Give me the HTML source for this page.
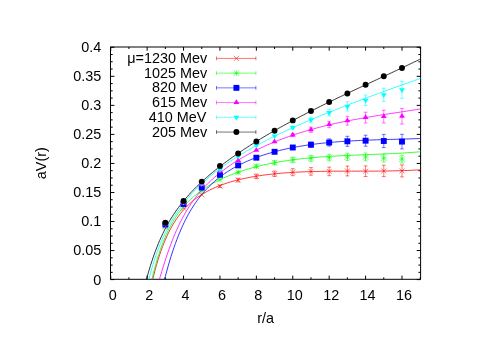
<!DOCTYPE html>
<html><head><meta charset="utf-8"><title>plot</title>
<style>
html,body{margin:0;padding:0;background:#fff;}
body{width:497px;height:351px;overflow:hidden;}
svg{display:block;will-change:transform;}
text{font-family:"Liberation Sans",sans-serif;font-size:14.4px;fill:#000;}
</style></head><body>
<svg width="497" height="351" viewBox="0 0 497 351">
<rect width="497" height="351" fill="#fff"/>
<defs><clipPath id="c"><rect x="110.5" y="47" width="310.1" height="232.3"/></clipPath></defs>
<path d="M110.5 279.6h3.9M420.6 279.6h-3.9M110.5 272.34h2.2M420.6 272.34h-2.2M110.5 265.08h2.2M420.6 265.08h-2.2M110.5 257.82h2.2M420.6 257.82h-2.2M110.5 250.56h3.9M420.6 250.56h-3.9M110.5 243.3h2.2M420.6 243.3h-2.2M110.5 236.04h2.2M420.6 236.04h-2.2M110.5 228.78h2.2M420.6 228.78h-2.2M110.5 221.52h3.9M420.6 221.52h-3.9M110.5 214.26h2.2M420.6 214.26h-2.2M110.5 207h2.2M420.6 207h-2.2M110.5 199.74h2.2M420.6 199.74h-2.2M110.5 192.48h3.9M420.6 192.48h-3.9M110.5 185.22h2.2M420.6 185.22h-2.2M110.5 177.96h2.2M420.6 177.96h-2.2M110.5 170.7h2.2M420.6 170.7h-2.2M110.5 163.44h3.9M420.6 163.44h-3.9M110.5 156.18h2.2M420.6 156.18h-2.2M110.5 148.92h2.2M420.6 148.92h-2.2M110.5 141.66h2.2M420.6 141.66h-2.2M110.5 134.4h3.9M420.6 134.4h-3.9M110.5 127.14h2.2M420.6 127.14h-2.2M110.5 119.88h2.2M420.6 119.88h-2.2M110.5 112.62h2.2M420.6 112.62h-2.2M110.5 105.36h3.9M420.6 105.36h-3.9M110.5 98.1h2.2M420.6 98.1h-2.2M110.5 90.84h2.2M420.6 90.84h-2.2M110.5 83.58h2.2M420.6 83.58h-2.2M110.5 76.32h3.9M420.6 76.32h-3.9M110.5 69.06h2.2M420.6 69.06h-2.2M110.5 61.8h2.2M420.6 61.8h-2.2M110.5 54.54h2.2M420.6 54.54h-2.2M110.5 47.28h3.9M420.6 47.28h-3.9M110.73 279.3v-3.7M110.73 47v3.7M128.93 279.3v-2M128.93 47v2M147.14 279.3v-3.7M147.14 47v3.7M165.34 279.3v-2M165.34 47v2M183.55 279.3v-3.7M183.55 47v3.7M201.75 279.3v-2M201.75 47v2M219.95 279.3v-3.7M219.95 47v3.7M238.16 279.3v-2M238.16 47v2M256.36 279.3v-3.7M256.36 47v3.7M274.57 279.3v-2M274.57 47v2M292.77 279.3v-3.7M292.77 47v3.7M310.97 279.3v-2M310.97 47v2M329.18 279.3v-3.7M329.18 47v3.7M347.38 279.3v-2M347.38 47v2M365.59 279.3v-3.7M365.59 47v3.7M383.79 279.3v-2M383.79 47v2M401.99 279.3v-3.7M401.99 47v3.7M420.2 279.3v-2M420.2 47v2" stroke="#000" stroke-width="1" fill="none"/>
<path d="M110.5 47V279.3H420.6V47" stroke="#000" stroke-width="1" fill="none" stroke-linejoin="miter"/>
<path d="M110 47H421.1" stroke="#000" stroke-width="1" fill="none"/>
<g clip-path="url(#c)" fill="none">
<polyline points="150.57,288.5 152.08,281.95 153.59,275.8 155.1,270.03 156.61,264.64 158.12,259.6 159.63,254.89 161.15,250.49 162.66,246.38 164.17,242.53 165.68,238.94 167.19,235.57 168.7,232.42 170.21,229.47 171.73,226.69 173.24,224.09 174.75,221.63 176.26,219.33 177.77,217.15 179.28,215.1 180.79,213.16 182.31,211.33 183.82,209.59 185.33,207.95 186.84,206.39 188.35,204.91 189.86,203.5 191.37,202.17 192.89,200.89 194.4,199.68 195.91,198.53 197.42,197.42 198.93,196.37 200.44,195.36 201.95,194.4 203.46,193.48 204.98,192.59 206.49,191.75 208,190.94 209.51,190.16 211.02,189.41 212.53,188.69 214.04,188 215.56,187.34 217.07,186.7 218.58,186.09 220.09,185.5 221.6,184.93 223.11,184.38 224.62,183.85 226.14,183.34 227.65,182.85 229.16,182.38 230.67,181.92 232.18,181.48 233.69,181.06 235.2,180.65 236.72,180.25 238.23,179.87 239.74,179.5 241.25,179.14 242.76,178.8 244.27,178.47 245.78,178.15 247.3,177.84 248.81,177.54 250.32,177.26 251.83,176.98 253.34,176.71 254.85,176.45 256.36,176.2 257.88,175.96 259.39,175.73 260.9,175.51 262.41,175.29 263.92,175.09 265.43,174.89 266.94,174.69 268.46,174.51 269.97,174.33 271.48,174.16 272.99,174 274.5,173.84 276.01,173.69 277.52,173.54 279.04,173.4 280.55,173.27 282.06,173.14 283.57,173.02 285.08,172.91 286.59,172.79 288.1,172.69 289.62,172.59 291.13,172.49 292.64,172.4 294.15,172.31 295.66,172.23 297.17,172.15 298.68,172.07 300.2,172 301.71,171.93 303.22,171.87 304.73,171.81 306.24,171.75 307.75,171.7 309.26,171.65 310.78,171.6 312.29,171.56 313.8,171.52 315.31,171.48 316.82,171.45 318.33,171.42 319.84,171.39 321.36,171.36 322.87,171.33 324.38,171.31 325.89,171.29 327.4,171.27 328.91,171.25 330.42,171.24 331.93,171.22 333.45,171.21 334.96,171.2 336.47,171.19 337.98,171.18 339.49,171.18 341,171.17 342.51,171.16 344.03,171.16 345.54,171.16 347.05,171.15 348.56,171.15 350.07,171.15 351.58,171.15 353.09,171.15 354.61,171.15 356.12,171.15 357.63,171.15 359.14,171.14 360.65,171.14 362.16,171.14 363.67,171.14 365.19,171.14 366.7,171.13 368.21,171.13 369.72,171.13 371.23,171.12 372.74,171.11 374.25,171.11 375.77,171.1 377.28,171.09 378.79,171.07 380.3,171.06 381.81,171.05 383.32,171.03 384.83,171.01 386.35,170.99 387.86,170.97 389.37,170.95 390.88,170.92 392.39,170.89 393.9,170.86 395.41,170.83 396.93,170.79 398.44,170.75 399.95,170.71 401.46,170.67 402.97,170.62 404.48,170.57 405.99,170.52 407.51,170.46 409.02,170.4 410.53,170.34 412.04,170.27 413.55,170.2 415.06,170.13 416.57,170.05 418.09,169.97 419.6,169.88 421.11,169.79" stroke="#ff0000" stroke-width="0.8"/>
<polyline points="149.72,288.92 151.23,282.11 152.75,275.74 154.26,269.77 155.78,264.21 157.3,259.02 158.81,254.18 160.33,249.66 161.84,245.44 163.36,241.5 164.88,237.81 166.39,234.36 167.91,231.12 169.43,228.08 170.94,225.22 172.46,222.52 173.97,219.98 175.49,217.58 177.01,215.31 178.52,213.17 180.04,211.13 181.55,209.19 183.07,207.35 184.59,205.6 186.1,203.93 187.62,202.34 189.14,200.81 190.65,199.35 192.17,197.96 193.68,196.62 195.2,195.33 196.72,194.09 198.23,192.9 199.75,191.76 201.26,190.65 202.78,189.59 204.3,188.56 205.81,187.57 207.33,186.61 208.85,185.68 210.36,184.78 211.88,183.91 213.39,183.06 214.91,182.24 216.43,181.45 217.94,180.68 219.46,179.93 220.98,179.2 222.49,178.49 224.01,177.81 225.52,177.14 227.04,176.49 228.56,175.85 230.07,175.24 231.59,174.64 233.1,174.05 234.62,173.48 236.14,172.93 237.65,172.39 239.17,171.86 240.69,171.35 242.2,170.85 243.72,170.36 245.23,169.88 246.75,169.42 248.27,168.97 249.78,168.53 251.3,168.1 252.81,167.68 254.33,167.27 255.85,166.88 257.36,166.49 258.88,166.11 260.4,165.74 261.91,165.38 263.43,165.03 264.94,164.69 266.46,164.36 267.98,164.04 269.49,163.72 271.01,163.42 272.52,163.12 274.04,162.83 275.56,162.54 277.07,162.27 278.59,162 280.11,161.74 281.62,161.49 283.14,161.24 284.65,161 286.17,160.77 287.69,160.54 289.2,160.32 290.72,160.11 292.23,159.9 293.75,159.7 295.27,159.5 296.78,159.31 298.3,159.13 299.82,158.95 301.33,158.77 302.85,158.61 304.36,158.44 305.88,158.28 307.4,158.13 308.91,157.98 310.43,157.84 311.94,157.7 313.46,157.56 314.98,157.43 316.49,157.31 318.01,157.18 319.53,157.06 321.04,156.95 322.56,156.84 324.07,156.73 325.59,156.63 327.11,156.52 328.62,156.43 330.14,156.33 331.65,156.24 333.17,156.15 334.69,156.06 336.2,155.98 337.72,155.9 339.24,155.82 340.75,155.74 342.27,155.67 343.78,155.59 345.3,155.52 346.82,155.45 348.33,155.39 349.85,155.32 351.36,155.26 352.88,155.19 354.4,155.13 355.91,155.07 357.43,155.01 358.95,154.95 360.46,154.89 361.98,154.83 363.49,154.77 365.01,154.72 366.53,154.66 368.04,154.6 369.56,154.54 371.07,154.49 372.59,154.43 374.11,154.37 375.62,154.31 377.14,154.25 378.66,154.19 380.17,154.13 381.69,154.07 383.2,154 384.72,153.94 386.24,153.87 387.75,153.81 389.27,153.74 390.78,153.67 392.3,153.59 393.82,153.52 395.33,153.44 396.85,153.36 398.37,153.28 399.88,153.2 401.4,153.11 402.91,153.02 404.43,152.93 405.95,152.83 407.46,152.73 408.98,152.63 410.5,152.53 412.01,152.42 413.53,152.31 415.04,152.19 416.56,152.07 418.08,151.95 419.59,151.82 421.11,151.69" stroke="#00ff00" stroke-width="0.8"/>
<polyline points="162.42,287.85 163.86,282.07 165.31,276.48 166.75,271.12 168.2,265.97 169.64,261.05 171.09,256.34 172.53,251.84 173.98,247.55 175.42,243.47 176.87,239.57 178.31,235.85 179.76,232.31 181.2,228.94 182.65,225.72 184.09,222.66 185.54,219.73 186.98,216.94 188.43,214.27 189.87,211.73 191.32,209.29 192.76,206.96 194.21,204.74 195.66,202.6 197.1,200.56 198.55,198.6 199.99,196.72 201.44,194.92 202.88,193.19 204.33,191.52 205.77,189.92 207.22,188.38 208.66,186.9 210.11,185.47 211.55,184.1 213,182.77 214.44,181.49 215.89,180.25 217.33,179.06 218.78,177.91 220.22,176.79 221.67,175.71 223.11,174.67 224.56,173.65 226,172.67 227.45,171.72 228.9,170.8 230.34,169.91 231.79,169.04 233.23,168.2 234.68,167.39 236.12,166.59 237.57,165.82 239.01,165.07 240.46,164.34 241.9,163.64 243.35,162.95 244.79,162.28 246.24,161.63 247.68,160.99 249.13,160.37 250.57,159.77 252.02,159.18 253.46,158.61 254.91,158.06 256.35,157.52 257.8,156.99 259.24,156.47 260.69,155.97 262.14,155.48 263.58,155.01 265.03,154.54 266.47,154.09 267.92,153.65 269.36,153.22 270.81,152.8 272.25,152.39 273.7,151.99 275.14,151.6 276.59,151.22 278.03,150.85 279.48,150.49 280.92,150.14 282.37,149.8 283.81,149.47 285.26,149.14 286.7,148.82 288.15,148.51 289.59,148.21 291.04,147.92 292.48,147.64 293.93,147.36 295.37,147.09 296.82,146.82 298.27,146.57 299.71,146.32 301.16,146.08 302.6,145.84 304.05,145.61 305.49,145.39 306.94,145.17 308.38,144.96 309.83,144.75 311.27,144.55 312.72,144.36 314.16,144.17 315.61,143.99 317.05,143.81 318.5,143.64 319.94,143.47 321.39,143.31 322.83,143.15 324.28,143 325.72,142.85 327.17,142.71 328.61,142.57 330.06,142.44 331.51,142.31 332.95,142.18 334.4,142.06 335.84,141.94 337.29,141.83 338.73,141.72 340.18,141.61 341.62,141.51 343.07,141.41 344.51,141.31 345.96,141.22 347.4,141.13 348.85,141.04 350.29,140.96 351.74,140.88 353.18,140.8 354.63,140.72 356.07,140.65 357.52,140.58 358.96,140.51 360.41,140.44 361.85,140.38 363.3,140.32 364.74,140.26 366.19,140.2 367.64,140.14 369.08,140.09 370.53,140.04 371.97,139.99 373.42,139.94 374.86,139.89 376.31,139.84 377.75,139.8 379.2,139.75 380.64,139.71 382.09,139.66 383.53,139.62 384.98,139.58 386.42,139.54 387.87,139.5 389.31,139.46 390.76,139.42 392.2,139.38 393.65,139.34 395.09,139.3 396.54,139.26 397.98,139.22 399.43,139.18 400.88,139.14 402.32,139.09 403.77,139.05 405.21,139.01 406.66,138.97 408.1,138.92 409.55,138.88 410.99,138.83 412.44,138.78 413.88,138.73 415.33,138.68 416.77,138.63 418.22,138.58 419.66,138.52 421.11,138.46" stroke="#0000ff" stroke-width="0.8"/>
<polyline points="157.32,286.63 158.79,281.62 160.26,276.62 161.74,271.67 163.21,266.82 164.68,262.11 166.16,257.56 167.63,253.16 169.11,248.94 170.58,244.89 172.05,241.01 173.53,237.3 175,233.75 176.47,230.35 177.95,227.11 179.42,224.01 180.89,221.04 182.37,218.21 183.84,215.49 185.32,212.89 186.79,210.4 188.26,208.01 189.74,205.72 191.21,203.52 192.68,201.4 194.16,199.36 195.63,197.4 197.11,195.51 198.58,193.69 200.05,191.93 201.53,190.23 203,188.58 204.47,186.99 205.95,185.45 207.42,183.95 208.9,182.5 210.37,181.09 211.84,179.72 213.32,178.39 214.79,177.09 216.26,175.83 217.74,174.6 219.21,173.4 220.68,172.23 222.16,171.08 223.63,169.97 225.11,168.87 226.58,167.81 228.05,166.76 229.53,165.74 231,164.74 232.47,163.76 233.95,162.79 235.42,161.85 236.9,160.93 238.37,160.02 239.84,159.13 241.32,158.25 242.79,157.39 244.26,156.55 245.74,155.72 247.21,154.9 248.69,154.1 250.16,153.31 251.63,152.54 253.11,151.78 254.58,151.03 256.05,150.29 257.53,149.57 259,148.85 260.47,148.15 261.95,147.46 263.42,146.78 264.9,146.1 266.37,145.44 267.84,144.79 269.32,144.15 270.79,143.52 272.26,142.9 273.74,142.29 275.21,141.69 276.69,141.1 278.16,140.51 279.63,139.94 281.11,139.37 282.58,138.81 284.05,138.26 285.53,137.72 287,137.18 288.48,136.66 289.95,136.14 291.42,135.63 292.9,135.13 294.37,134.63 295.84,134.14 297.32,133.66 298.79,133.19 300.26,132.72 301.74,132.27 303.21,131.81 304.69,131.37 306.16,130.93 307.63,130.5 309.11,130.07 310.58,129.65 312.05,129.24 313.53,128.83 315,128.43 316.48,128.03 317.95,127.64 319.42,127.26 320.9,126.88 322.37,126.51 323.84,126.14 325.32,125.78 326.79,125.43 328.26,125.07 329.74,124.73 331.21,124.39 332.69,124.05 334.16,123.72 335.63,123.39 337.11,123.07 338.58,122.75 340.05,122.44 341.53,122.13 343,121.83 344.48,121.53 345.95,121.23 347.42,120.94 348.9,120.65 350.37,120.36 351.84,120.08 353.32,119.8 354.79,119.53 356.27,119.26 357.74,118.99 359.21,118.72 360.69,118.46 362.16,118.2 363.63,117.94 365.11,117.69 366.58,117.43 368.05,117.18 369.53,116.94 371,116.69 372.48,116.45 373.95,116.21 375.42,115.97 376.9,115.73 378.37,115.49 379.84,115.26 381.32,115.03 382.79,114.79 384.27,114.56 385.74,114.33 387.21,114.1 388.69,113.87 390.16,113.65 391.63,113.42 393.11,113.19 394.58,112.97 396.06,112.74 397.53,112.51 399,112.29 400.48,112.06 401.95,111.83 403.42,111.61 404.9,111.38 406.37,111.15 407.84,110.92 409.32,110.69 410.79,110.46 412.27,110.23 413.74,109.99 415.21,109.76 416.69,109.52 418.16,109.28 419.63,109.04 421.11,108.8" stroke="#ff00ff" stroke-width="0.8"/>
<polyline points="146.72,288.57 148.25,281.89 149.78,275.76 151.31,270.1 152.85,264.85 154.38,259.96 155.91,255.4 157.45,251.12 158.98,247.09 160.51,243.29 162.04,239.7 163.58,236.3 165.11,233.07 166.64,229.99 168.18,227.05 169.71,224.24 171.24,221.56 172.78,218.98 174.31,216.51 175.84,214.13 177.37,211.83 178.91,209.63 180.44,207.49 181.97,205.43 183.51,203.43 185.04,201.5 186.57,199.63 188.1,197.81 189.64,196.04 191.17,194.32 192.7,192.65 194.24,191.02 195.77,189.44 197.3,187.89 198.83,186.38 200.37,184.91 201.9,183.47 203.43,182.06 204.97,180.68 206.5,179.33 208.03,178.01 209.57,176.71 211.1,175.44 212.63,174.2 214.16,172.97 215.7,171.77 217.23,170.59 218.76,169.43 220.3,168.29 221.83,167.17 223.36,166.07 224.89,164.98 226.43,163.91 227.96,162.86 229.49,161.82 231.03,160.8 232.56,159.79 234.09,158.79 235.62,157.81 237.16,156.84 238.69,155.89 240.22,154.94 241.76,154.01 243.29,153.09 244.82,152.18 246.36,151.28 247.89,150.39 249.42,149.51 250.95,148.64 252.49,147.78 254.02,146.92 255.55,146.08 257.09,145.24 258.62,144.42 260.15,143.6 261.68,142.79 263.22,141.98 264.75,141.19 266.28,140.4 267.82,139.61 269.35,138.84 270.88,138.07 272.41,137.3 273.95,136.55 275.48,135.79 277.01,135.05 278.55,134.31 280.08,133.57 281.61,132.85 283.15,132.12 284.68,131.4 286.21,130.69 287.74,129.98 289.28,129.28 290.81,128.58 292.34,127.88 293.88,127.19 295.41,126.5 296.94,125.82 298.47,125.14 300.01,124.47 301.54,123.8 303.07,123.13 304.61,122.47 306.14,121.81 307.67,121.15 309.21,120.5 310.74,119.85 312.27,119.2 313.8,118.56 315.34,117.92 316.87,117.28 318.4,116.65 319.94,116.02 321.47,115.39 323,114.76 324.53,114.14 326.07,113.52 327.6,112.9 329.13,112.28 330.67,111.67 332.2,111.06 333.73,110.45 335.26,109.84 336.8,109.24 338.33,108.64 339.86,108.04 341.4,107.44 342.93,106.84 344.46,106.25 346,105.65 347.53,105.06 349.06,104.48 350.59,103.89 352.13,103.3 353.66,102.72 355.19,102.14 356.73,101.56 358.26,100.98 359.79,100.4 361.32,99.82 362.86,99.25 364.39,98.67 365.92,98.1 367.46,97.53 368.99,96.96 370.52,96.39 372.05,95.83 373.59,95.26 375.12,94.69 376.65,94.13 378.19,93.57 379.72,93 381.25,92.44 382.79,91.88 384.32,91.32 385.85,90.76 387.38,90.21 388.92,89.65 390.45,89.09 391.98,88.54 393.52,87.98 395.05,87.43 396.58,86.88 398.11,86.32 399.65,85.77 401.18,85.22 402.71,84.67 404.25,84.12 405.78,83.57 407.31,83.02 408.84,82.47 410.38,81.92 411.91,81.37 413.44,80.82 414.98,80.27 416.51,79.73 418.04,79.18 419.58,78.63 421.11,78.09" stroke="#00ffff" stroke-width="0.8"/>
<polyline points="144.32,287.32 145.86,281.53 147.41,275.94 148.95,270.6 150.5,265.52 152.05,260.7 153.59,256.14 155.14,251.83 156.69,247.75 158.23,243.89 159.78,240.23 161.33,236.77 162.87,233.48 164.42,230.36 165.96,227.38 167.51,224.54 169.06,221.83 170.6,219.23 172.15,216.74 173.7,214.35 175.24,212.05 176.79,209.84 178.33,207.7 179.88,205.64 181.43,203.64 182.97,201.7 184.52,199.83 186.07,198 187.61,196.23 189.16,194.5 190.71,192.81 192.25,191.17 193.8,189.57 195.34,188 196.89,186.46 198.44,184.95 199.98,183.48 201.53,182.03 203.08,180.61 204.62,179.21 206.17,177.84 207.71,176.49 209.26,175.16 210.81,173.86 212.35,172.57 213.9,171.3 215.45,170.04 216.99,168.81 218.54,167.59 220.09,166.38 221.63,165.19 223.18,164.02 224.72,162.86 226.27,161.71 227.82,160.57 229.36,159.45 230.91,158.34 232.46,157.24 234,156.15 235.55,155.07 237.1,154 238.64,152.94 240.19,151.89 241.73,150.85 243.28,149.82 244.83,148.8 246.37,147.79 247.92,146.79 249.47,145.79 251.01,144.8 252.56,143.82 254.1,142.85 255.65,141.88 257.2,140.93 258.74,139.97 260.29,139.03 261.84,138.09 263.38,137.16 264.93,136.24 266.48,135.32 268.02,134.41 269.57,133.5 271.11,132.6 272.66,131.71 274.21,130.82 275.75,129.94 277.3,129.06 278.85,128.19 280.39,127.32 281.94,126.46 283.49,125.6 285.03,124.75 286.58,123.9 288.12,123.06 289.67,122.22 291.22,121.39 292.76,120.56 294.31,119.73 295.86,118.91 297.4,118.09 298.95,117.28 300.49,116.47 302.04,115.67 303.59,114.86 305.13,114.07 306.68,113.27 308.23,112.48 309.77,111.69 311.32,110.91 312.87,110.13 314.41,109.35 315.96,108.58 317.5,107.8 319.05,107.03 320.6,106.27 322.14,105.51 323.69,104.74 325.24,103.99 326.78,103.23 328.33,102.48 329.87,101.73 331.42,100.98 332.97,100.23 334.51,99.49 336.06,98.74 337.61,98 339.15,97.26 340.7,96.53 342.25,95.79 343.79,95.06 345.34,94.32 346.88,93.59 348.43,92.86 349.98,92.14 351.52,91.41 353.07,90.68 354.62,89.96 356.16,89.23 357.71,88.51 359.26,87.79 360.8,87.07 362.35,86.35 363.89,85.63 365.44,84.91 366.99,84.19 368.53,83.47 370.08,82.75 371.63,82.03 373.17,81.31 374.72,80.6 376.26,79.88 377.81,79.16 379.36,78.44 380.9,77.72 382.45,77 384,76.28 385.54,75.56 387.09,74.84 388.64,74.12 390.18,73.4 391.73,72.68 393.27,71.95 394.82,71.23 396.37,70.5 397.91,69.78 399.46,69.05 401.01,68.32 402.55,67.59 404.1,66.86 405.64,66.12 407.19,65.39 408.74,64.65 410.28,63.91 411.83,63.17 413.38,62.43 414.92,61.69 416.47,60.94 418.02,60.19 419.56,59.44 421.11,58.69" stroke="#000000" stroke-width="0.8"/>
</g>
<path d="M162.84 224.5l5 5M162.84 229.5l5 -5" stroke="#ff0000" stroke-width="0.55" fill="none"/>
<path d="M181.05 205.5l5 5M181.05 210.5l5 -5" stroke="#ff0000" stroke-width="0.55" fill="none"/>
<path d="M199.25 192.4l5 5M199.25 197.4l5 -5" stroke="#ff0000" stroke-width="0.55" fill="none"/>
<path d="M219.95 185V187.4M218.05 185h3.8M218.05 187.4h3.8" stroke="#ff0000" stroke-width="0.55" fill="none"/>
<path d="M217.45 183.7l5 5M217.45 188.7l5 -5" stroke="#ff0000" stroke-width="0.55" fill="none"/>
<path d="M238.16 178.3V181.9M236.26 178.3h3.8M236.26 181.9h3.8" stroke="#ff0000" stroke-width="0.55" fill="none"/>
<path d="M235.66 177.6l5 5M235.66 182.6l5 -5" stroke="#ff0000" stroke-width="0.55" fill="none"/>
<path d="M256.36 174.1V178.7M254.46 174.1h3.8M254.46 178.7h3.8" stroke="#ff0000" stroke-width="0.55" fill="none"/>
<path d="M253.86 173.9l5 5M253.86 178.9l5 -5" stroke="#ff0000" stroke-width="0.55" fill="none"/>
<path d="M274.57 171.1V176.5M272.67 171.1h3.8M272.67 176.5h3.8" stroke="#ff0000" stroke-width="0.55" fill="none"/>
<path d="M272.07 171.3l5 5M272.07 176.3l5 -5" stroke="#ff0000" stroke-width="0.55" fill="none"/>
<path d="M292.77 168.7V175.7M290.87 168.7h3.8M290.87 175.7h3.8" stroke="#ff0000" stroke-width="0.55" fill="none"/>
<path d="M290.27 169.7l5 5M290.27 174.7l5 -5" stroke="#ff0000" stroke-width="0.55" fill="none"/>
<path d="M310.97 167.6V175.2M309.07 167.6h3.8M309.07 175.2h3.8" stroke="#ff0000" stroke-width="0.55" fill="none"/>
<path d="M308.47 168.9l5 5M308.47 173.9l5 -5" stroke="#ff0000" stroke-width="0.55" fill="none"/>
<path d="M329.18 167.1V175.7M327.28 167.1h3.8M327.28 175.7h3.8" stroke="#ff0000" stroke-width="0.55" fill="none"/>
<path d="M326.68 168.9l5 5M326.68 173.9l5 -5" stroke="#ff0000" stroke-width="0.55" fill="none"/>
<path d="M347.38 166.1V175.9M345.48 166.1h3.8M345.48 175.9h3.8" stroke="#ff0000" stroke-width="0.55" fill="none"/>
<path d="M344.88 168.5l5 5M344.88 173.5l5 -5" stroke="#ff0000" stroke-width="0.55" fill="none"/>
<path d="M365.59 165.9V176.5M363.69 165.9h3.8M363.69 176.5h3.8" stroke="#ff0000" stroke-width="0.55" fill="none"/>
<path d="M363.09 168.7l5 5M363.09 173.7l5 -5" stroke="#ff0000" stroke-width="0.55" fill="none"/>
<path d="M383.79 165.2V176.6M381.89 165.2h3.8M381.89 176.6h3.8" stroke="#ff0000" stroke-width="0.55" fill="none"/>
<path d="M381.29 168.4l5 5M381.29 173.4l5 -5" stroke="#ff0000" stroke-width="0.55" fill="none"/>
<path d="M401.99 164.9V176.9M400.09 164.9h3.8M400.09 176.9h3.8" stroke="#ff0000" stroke-width="0.55" fill="none"/>
<path d="M399.49 168.4l5 5M399.49 173.4l5 -5" stroke="#ff0000" stroke-width="0.55" fill="none"/>
<path d="M162.44 222.6l5.8 5.8M162.44 228.4l5.8 -5.8M162.44 225.5h5.8M165.34 222.6v5.8" stroke="#00ff00" stroke-width="0.55" fill="none"/>
<path d="M180.65 203.1l5.8 5.8M180.65 208.9l5.8 -5.8M180.65 206h5.8M183.55 203.1v5.8" stroke="#00ff00" stroke-width="0.55" fill="none"/>
<path d="M198.85 188.1l5.8 5.8M198.85 193.9l5.8 -5.8M198.85 191h5.8M201.75 188.1v5.8" stroke="#00ff00" stroke-width="0.55" fill="none"/>
<path d="M217.05 176.7l5.8 5.8M217.05 182.5l5.8 -5.8M217.05 179.6h5.8M219.95 176.7v5.8" stroke="#00ff00" stroke-width="0.55" fill="none"/>
<path d="M238.16 171.4V173.4M236.26 171.4h3.8M236.26 173.4h3.8" stroke="#00ff00" stroke-width="0.55" fill="none"/>
<path d="M235.26 169.5l5.8 5.8M235.26 175.3l5.8 -5.8M235.26 172.4h5.8M238.16 169.5v5.8" stroke="#00ff00" stroke-width="0.55" fill="none"/>
<path d="M256.36 164.8V167.8M254.46 164.8h3.8M254.46 167.8h3.8" stroke="#00ff00" stroke-width="0.55" fill="none"/>
<path d="M253.46 163.4l5.8 5.8M253.46 169.2l5.8 -5.8M253.46 166.3h5.8M256.36 163.4v5.8" stroke="#00ff00" stroke-width="0.55" fill="none"/>
<path d="M274.57 160.7V164.7M272.67 160.7h3.8M272.67 164.7h3.8" stroke="#00ff00" stroke-width="0.55" fill="none"/>
<path d="M271.67 159.8l5.8 5.8M271.67 165.6l5.8 -5.8M271.67 162.7h5.8M274.57 159.8v5.8" stroke="#00ff00" stroke-width="0.55" fill="none"/>
<path d="M292.77 157.1V162.7M290.87 157.1h3.8M290.87 162.7h3.8" stroke="#00ff00" stroke-width="0.55" fill="none"/>
<path d="M289.87 157l5.8 5.8M289.87 162.8l5.8 -5.8M289.87 159.9h5.8M292.77 157v5.8" stroke="#00ff00" stroke-width="0.55" fill="none"/>
<path d="M310.97 155.3V161.3M309.07 155.3h3.8M309.07 161.3h3.8" stroke="#00ff00" stroke-width="0.55" fill="none"/>
<path d="M308.07 155.4l5.8 5.8M308.07 161.2l5.8 -5.8M308.07 158.3h5.8M310.97 155.4v5.8" stroke="#00ff00" stroke-width="0.55" fill="none"/>
<path d="M329.18 154.3V160.9M327.28 154.3h3.8M327.28 160.9h3.8" stroke="#00ff00" stroke-width="0.55" fill="none"/>
<path d="M326.28 154.7l5.8 5.8M326.28 160.5l5.8 -5.8M326.28 157.6h5.8M329.18 154.7v5.8" stroke="#00ff00" stroke-width="0.55" fill="none"/>
<path d="M347.38 153.2V160.6M345.48 153.2h3.8M345.48 160.6h3.8" stroke="#00ff00" stroke-width="0.55" fill="none"/>
<path d="M344.48 154l5.8 5.8M344.48 159.8l5.8 -5.8M344.48 156.9h5.8M347.38 154v5.8" stroke="#00ff00" stroke-width="0.55" fill="none"/>
<path d="M365.59 153V160.8M363.69 153h3.8M363.69 160.8h3.8" stroke="#00ff00" stroke-width="0.55" fill="none"/>
<path d="M362.69 154l5.8 5.8M362.69 159.8l5.8 -5.8M362.69 156.9h5.8M365.59 154v5.8" stroke="#00ff00" stroke-width="0.55" fill="none"/>
<path d="M383.79 154.2V162M381.89 154.2h3.8M381.89 162h3.8" stroke="#00ff00" stroke-width="0.55" fill="none"/>
<path d="M380.89 155.2l5.8 5.8M380.89 161l5.8 -5.8M380.89 158.1h5.8M383.79 155.2v5.8" stroke="#00ff00" stroke-width="0.55" fill="none"/>
<path d="M401.99 155.2V163M400.09 155.2h3.8M400.09 163h3.8" stroke="#00ff00" stroke-width="0.55" fill="none"/>
<path d="M399.09 156.2l5.8 5.8M399.09 162l5.8 -5.8M399.09 159.1h5.8M401.99 156.2v5.8" stroke="#00ff00" stroke-width="0.55" fill="none"/>
<rect x="162.39" y="221.55" width="5.9" height="5.9" fill="#0000ff"/>
<rect x="180.6" y="201.05" width="5.9" height="5.9" fill="#0000ff"/>
<rect x="198.8" y="184.65" width="5.9" height="5.9" fill="#0000ff"/>
<rect x="217" y="171.85" width="5.9" height="5.9" fill="#0000ff"/>
<rect x="235.21" y="162.45" width="5.9" height="5.9" fill="#0000ff"/>
<rect x="253.41" y="154.75" width="5.9" height="5.9" fill="#0000ff"/>
<path d="M274.57 150.8V152.8M272.67 150.8h3.8M272.67 152.8h3.8" stroke="#0000ff" stroke-width="0.55" fill="none"/>
<rect x="271.62" y="148.85" width="5.9" height="5.9" fill="#0000ff"/>
<path d="M292.77 145.7V149.3M290.87 145.7h3.8M290.87 149.3h3.8" stroke="#0000ff" stroke-width="0.55" fill="none"/>
<rect x="289.82" y="144.55" width="5.9" height="5.9" fill="#0000ff"/>
<path d="M310.97 142.1V147.3M309.07 142.1h3.8M309.07 147.3h3.8" stroke="#0000ff" stroke-width="0.55" fill="none"/>
<rect x="308.02" y="141.75" width="5.9" height="5.9" fill="#0000ff"/>
<path d="M329.18 138.9V146.1M327.28 138.9h3.8M327.28 146.1h3.8" stroke="#0000ff" stroke-width="0.55" fill="none"/>
<rect x="326.23" y="139.55" width="5.9" height="5.9" fill="#0000ff"/>
<path d="M347.38 136.3V146.3M345.48 136.3h3.8M345.48 146.3h3.8" stroke="#0000ff" stroke-width="0.55" fill="none"/>
<rect x="344.43" y="138.35" width="5.9" height="5.9" fill="#0000ff"/>
<path d="M365.59 135.2V146.2M363.69 135.2h3.8M363.69 146.2h3.8" stroke="#0000ff" stroke-width="0.55" fill="none"/>
<rect x="362.64" y="137.75" width="5.9" height="5.9" fill="#0000ff"/>
<path d="M383.79 134.4V147.6M381.89 134.4h3.8M381.89 147.6h3.8" stroke="#0000ff" stroke-width="0.55" fill="none"/>
<rect x="380.84" y="138.05" width="5.9" height="5.9" fill="#0000ff"/>
<path d="M401.99 134.3V148.9M400.09 134.3h3.8M400.09 148.9h3.8" stroke="#0000ff" stroke-width="0.55" fill="none"/>
<rect x="399.04" y="138.65" width="5.9" height="5.9" fill="#0000ff"/>
<path d="M165.34 220.7L162.39 225.5L168.29 225.5Z" fill="#ff00ff"/>
<path d="M183.55 199.7L180.6 204.5L186.5 204.5Z" fill="#ff00ff"/>
<path d="M201.75 181.5L198.8 186.3L204.7 186.3Z" fill="#ff00ff"/>
<path d="M219.95 167.9L217 172.7L222.9 172.7Z" fill="#ff00ff"/>
<path d="M238.16 157.2L235.21 162L241.11 162Z" fill="#ff00ff"/>
<path d="M256.36 147L253.41 151.8L259.31 151.8Z" fill="#ff00ff"/>
<path d="M274.57 138.4L271.62 143.2L277.52 143.2Z" fill="#ff00ff"/>
<path d="M292.77 133.6V136.6M290.87 133.6h3.8M290.87 136.6h3.8" stroke="#ff00ff" stroke-width="0.55" fill="none"/>
<path d="M292.77 131.8L289.82 136.6L295.72 136.6Z" fill="#ff00ff"/>
<path d="M310.97 127.1V132.3M309.07 127.1h3.8M309.07 132.3h3.8" stroke="#ff00ff" stroke-width="0.55" fill="none"/>
<path d="M310.97 126.4L308.02 131.2L313.92 131.2Z" fill="#ff00ff"/>
<path d="M329.18 121.3V127.7M327.28 121.3h3.8M327.28 127.7h3.8" stroke="#ff00ff" stroke-width="0.55" fill="none"/>
<path d="M329.18 121.2L326.23 126L332.13 126Z" fill="#ff00ff"/>
<path d="M347.38 116.3V125.1M345.48 116.3h3.8M345.48 125.1h3.8" stroke="#ff00ff" stroke-width="0.55" fill="none"/>
<path d="M347.38 117.4L344.43 122.2L350.33 122.2Z" fill="#ff00ff"/>
<path d="M365.59 112.2V123M363.69 112.2h3.8M363.69 123h3.8" stroke="#ff00ff" stroke-width="0.55" fill="none"/>
<path d="M365.59 114.3L362.64 119.1L368.54 119.1Z" fill="#ff00ff"/>
<path d="M383.79 110.2V123M381.89 110.2h3.8M381.89 123h3.8" stroke="#ff00ff" stroke-width="0.55" fill="none"/>
<path d="M383.79 113.3L380.84 118.1L386.74 118.1Z" fill="#ff00ff"/>
<path d="M401.99 108.4V124M400.09 108.4h3.8M400.09 124h3.8" stroke="#ff00ff" stroke-width="0.55" fill="none"/>
<path d="M401.99 112.9L399.04 117.7L404.94 117.7Z" fill="#ff00ff"/>
<path d="M165.34 226.8L162.39 222L168.29 222Z" fill="#00ffff"/>
<path d="M183.55 205.3L180.6 200.5L186.5 200.5Z" fill="#00ffff"/>
<path d="M201.75 186.8L198.8 182L204.7 182Z" fill="#00ffff"/>
<path d="M219.95 172.7L217 167.9L222.9 167.9Z" fill="#00ffff"/>
<path d="M238.16 159.5L235.21 154.7L241.11 154.7Z" fill="#00ffff"/>
<path d="M256.36 148.5L253.41 143.7L259.31 143.7Z" fill="#00ffff"/>
<path d="M274.57 139.3L271.62 134.5L277.52 134.5Z" fill="#00ffff"/>
<path d="M292.77 125.9V128.9M290.87 125.9h3.8M290.87 128.9h3.8" stroke="#00ffff" stroke-width="0.55" fill="none"/>
<path d="M292.77 130.7L289.82 125.9L295.72 125.9Z" fill="#00ffff"/>
<path d="M310.97 117.2V122.2M309.07 117.2h3.8M309.07 122.2h3.8" stroke="#00ffff" stroke-width="0.55" fill="none"/>
<path d="M310.97 123L308.02 118.2L313.92 118.2Z" fill="#00ffff"/>
<path d="M329.18 109.2V116M327.28 109.2h3.8M327.28 116h3.8" stroke="#00ffff" stroke-width="0.55" fill="none"/>
<path d="M329.18 115.9L326.23 111.1L332.13 111.1Z" fill="#00ffff"/>
<path d="M347.38 101.8V111M345.48 101.8h3.8M345.48 111h3.8" stroke="#00ffff" stroke-width="0.55" fill="none"/>
<path d="M347.38 109.7L344.43 104.9L350.33 104.9Z" fill="#00ffff"/>
<path d="M365.59 95V105.4M363.69 95h3.8M363.69 105.4h3.8" stroke="#00ffff" stroke-width="0.55" fill="none"/>
<path d="M365.59 103.5L362.64 98.7L368.54 98.7Z" fill="#00ffff"/>
<path d="M383.79 88.2V101.4M381.89 88.2h3.8M381.89 101.4h3.8" stroke="#00ffff" stroke-width="0.55" fill="none"/>
<path d="M383.79 98.1L380.84 93.3L386.74 93.3Z" fill="#00ffff"/>
<path d="M401.99 81.3V98.3M400.09 81.3h3.8M400.09 98.3h3.8" stroke="#00ffff" stroke-width="0.55" fill="none"/>
<path d="M401.99 93.1L399.04 88.3L404.94 88.3Z" fill="#00ffff"/>
<circle cx="165.34" cy="222.8" r="2.95" fill="#000000"/>
<circle cx="183.55" cy="201" r="2.95" fill="#000000"/>
<circle cx="201.75" cy="181.6" r="2.95" fill="#000000"/>
<circle cx="219.95" cy="166" r="2.95" fill="#000000"/>
<circle cx="238.16" cy="153.5" r="2.95" fill="#000000"/>
<circle cx="256.36" cy="141.5" r="2.95" fill="#000000"/>
<circle cx="274.57" cy="130.8" r="2.95" fill="#000000"/>
<circle cx="292.77" cy="120.4" r="2.95" fill="#000000"/>
<circle cx="310.97" cy="111" r="2.95" fill="#000000"/>
<circle cx="329.18" cy="102" r="2.95" fill="#000000"/>
<circle cx="347.38" cy="93.5" r="2.95" fill="#000000"/>
<circle cx="365.59" cy="84.8" r="2.95" fill="#000000"/>
<circle cx="383.79" cy="76.3" r="2.95" fill="#000000"/>
<circle cx="401.99" cy="68" r="2.95" fill="#000000"/>
<path d="M216.5 58.4H255.9M216.5 56.5v3.8M255.9 56.5v3.8" stroke="#ff0000" stroke-width="0.55" fill="none"/>
<path d="M233.9 55.9l5 5M233.9 60.9l5 -5" stroke="#ff0000" stroke-width="0.55" fill="none"/>
<text x="207.1" y="62.9" text-anchor="end">μ=1230 Mev</text>
<path d="M216.5 73.13H255.9M216.5 71.23v3.8M255.9 71.23v3.8" stroke="#00ff00" stroke-width="0.55" fill="none"/>
<path d="M233.5 70.23l5.8 5.8M233.5 76.03l5.8 -5.8M233.5 73.13h5.8M236.4 70.23v5.8" stroke="#00ff00" stroke-width="0.55" fill="none"/>
<text x="207.1" y="77.63" text-anchor="end">1025 Mev</text>
<path d="M216.5 87.86H255.9M216.5 85.96v3.8M255.9 85.96v3.8" stroke="#0000ff" stroke-width="0.55" fill="none"/>
<rect x="233.45" y="84.91" width="5.9" height="5.9" fill="#0000ff"/>
<text x="207.1" y="92.36" text-anchor="end">820 Mev</text>
<path d="M216.5 102.59H255.9M216.5 100.69v3.8M255.9 100.69v3.8" stroke="#ff00ff" stroke-width="0.55" fill="none"/>
<path d="M236.4 99.29L233.45 104.09L239.35 104.09Z" fill="#ff00ff"/>
<text x="207.1" y="107.09" text-anchor="end">615 Mev</text>
<path d="M216.5 117.32H255.9M216.5 115.42v3.8M255.9 115.42v3.8" stroke="#00ffff" stroke-width="0.55" fill="none"/>
<path d="M236.4 120.62L233.45 115.82L239.35 115.82Z" fill="#00ffff"/>
<text x="206.4" y="121.82" text-anchor="end">410 MeV</text>
<path d="M216.5 132.05H255.9M216.5 130.15v3.8M255.9 130.15v3.8" stroke="#000000" stroke-width="0.55" fill="none"/>
<circle cx="236.4" cy="132.05" r="2.95" fill="#000000"/>
<text x="207.1" y="136.55" text-anchor="end">205 Mev</text>
<text x="101.2" y="284.5" text-anchor="end">0</text>
<text x="101.2" y="255.46" text-anchor="end">0.05</text>
<text x="101.2" y="226.42" text-anchor="end">0.1</text>
<text x="101.2" y="197.38" text-anchor="end">0.15</text>
<text x="101.2" y="168.34" text-anchor="end">0.2</text>
<text x="101.2" y="139.3" text-anchor="end">0.25</text>
<text x="101.2" y="110.26" text-anchor="end">0.3</text>
<text x="101.2" y="81.22" text-anchor="end">0.35</text>
<text x="101.2" y="52.18" text-anchor="end">0.4</text>
<text x="112.73" y="299.6" text-anchor="middle">0</text>
<text x="149.14" y="299.6" text-anchor="middle">2</text>
<text x="185.55" y="299.6" text-anchor="middle">4</text>
<text x="221.95" y="299.6" text-anchor="middle">6</text>
<text x="258.36" y="299.6" text-anchor="middle">8</text>
<text x="294.77" y="299.6" text-anchor="middle">10</text>
<text x="331.18" y="299.6" text-anchor="middle">12</text>
<text x="367.59" y="299.6" text-anchor="middle">14</text>
<text x="403.99" y="299.6" text-anchor="middle">16</text>
<text x="265.6" y="322.9" text-anchor="middle">r/a</text>
<text transform="translate(46.0,163.2) rotate(-90)" text-anchor="middle">aV(r)</text>
</svg>
</body></html>
